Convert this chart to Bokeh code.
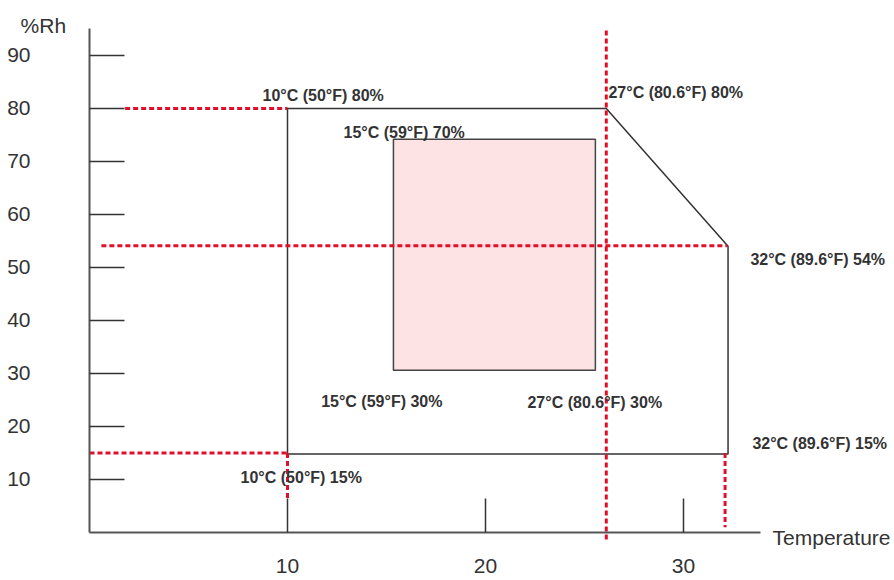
from bokeh.plotting import figure
from bokeh.models import Range1d, FixedTicker, Label
from bokeh.embed import file_html
from bokeh.resources import INLINE

# ---------------- data ----------------
x_ticks = [10, 20, 30]
y_ticks = [10, 20, 30, 40, 50, 60, 70, 80, 90]

# outer operating envelope (temperature, %Rh)
outer_t = [10, 26.1, 32.25, 32.25, 10]
outer_rh = [80, 80, 54, 14.8, 14.8]

# recommended (pink) region
inner_t = [15.35, 25.55]
inner_rh = [30.6, 74.2]

# red dashed guide lines
guide_x0 = [26.1, 0.6, 1.8, 0.0, 10.0, 32.1]
guide_y0 = [94.7, 54.1, 80.0, 15.0, 15.0, 15.0]
guide_x1 = [26.1, 32.2, 10.0, 10.0, 10.0, 32.1]
guide_y1 = [-1.5, 54.1, 80.0, 15.0, 6.0, 1.0]

# corner annotations
label_text = ["10°C (50°F) 80%", "15°C (59°F) 70%", "27°C (80.6°F) 80%",
              "32°C (89.6°F) 54%", "15°C (59°F) 30%", "27°C (80.6°F) 30%",
              "32°C (89.6°F) 15%", "10°C (50°F) 15%"]
label_t = [8.74, 12.83, 26.21, 33.38, 11.7, 22.12, 33.48, 7.63]
label_rh = [82.45, 75.4, 83.0, 51.5, 24.8, 24.5, 16.8, 10.4]

x_title = "Temperature"
y_title = "%Rh"

# ---------------- figure ----------------
p = figure(width=894, height=580, x_range=Range1d(-4.495, 40.657),
           y_range=Range1d(-9.057, 100.377), output_backend="svg",
           toolbar_location=None, title=None, min_border=0)
p.outline_line_color = None
p.xgrid.visible = False
p.ygrid.visible = False
p.background_fill_color = "white"

# axes drawn at fixed data locations
for ax in (p.xaxis[0], p.yaxis[0]):
    ax.fixed_location = 0
    ax.axis_line_color = "#555555"
    ax.axis_line_width = 2
    ax.major_tick_line_color = "#333333"
    ax.major_tick_line_width = 1.5
    ax.minor_tick_line_color = None
    ax.major_tick_out = 0
    ax.major_label_text_font = "Liberation Sans"
    ax.major_label_text_font_size = "21px"
    ax.major_label_text_color = "#333333"

p.xaxis[0].ticker = FixedTicker(ticks=x_ticks)
p.xaxis[0].bounds = (0, 33.9)
p.xaxis[0].major_tick_in = 34
p.xaxis[0].major_label_standoff = 27

p.yaxis[0].ticker = FixedTicker(ticks=y_ticks)
p.yaxis[0].bounds = (0, 95.1)
p.yaxis[0].major_tick_in = 35
p.yaxis[0].major_label_standoff = 59

# pink recommended region
p.quad(left=[inner_t[0]], right=[inner_t[1]], bottom=[inner_rh[0]], top=[inner_rh[1]],
       fill_color="#fde3e3", line_color="#444444", line_width=1.5)

# outer envelope
p.patch(outer_t, outer_rh, fill_color=None, line_color="#333333", line_width=1.5)

# red dashed guide lines
p.segment(x0=guide_x0, y0=guide_y0, x1=guide_x1, y1=guide_y1,
          line_color="#e0102a", line_width=3, line_dash="5 3")

# annotations
for txt, tx, ty in zip(label_text, label_t, label_rh):
    p.add_layout(Label(x=tx, y=ty, text=txt, text_font="Liberation Sans",
                       text_font_size="16px", text_font_style="bold",
                       text_color="#333333", text_baseline="middle",
                       text_align="left"))

p.add_layout(Label(x=-3.48, y=95.66, text=y_title, text_font="Liberation Sans",
                   text_font_size="21px", text_color="#333333",
                   text_baseline="alphabetic", text_align="left"))
p.add_layout(Label(x=34.5, y=-0.94, text=x_title, text_font="Liberation Sans",
                   text_font_size="21px", text_color="#333333",
                   text_baseline="alphabetic", text_align="left"))

open("out.html", "w").write(file_html(p, INLINE))
